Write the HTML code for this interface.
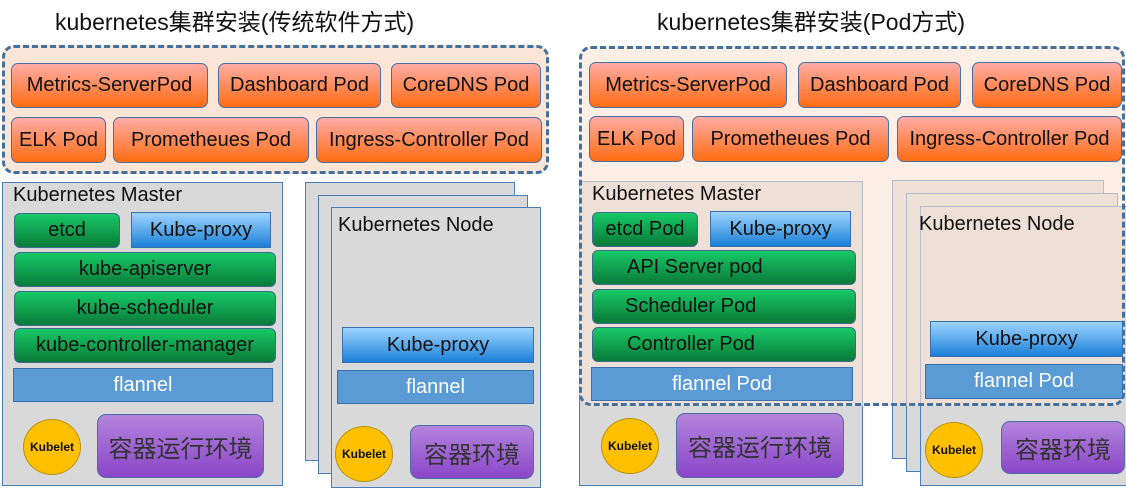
<!DOCTYPE html>
<html><head><meta charset="utf-8"><style>
body{margin:0;width:1126px;height:489px;background:#fff;position:relative;overflow:hidden;font-family:"Liberation Sans","Noto Sans CJK SC",sans-serif}
div{position:absolute;box-sizing:border-box}
.t{display:flex;align-items:center;justify-content:center;white-space:nowrap;color:#111}
.pod{background:linear-gradient(#ffaca6,#ff6c12);border:1.5px solid #4a6fa5;border-radius:7px;font-size:20px}
.gr{background:linear-gradient(#17c966,#0a7a3a);border:1.5px solid #3f6b8f;border-radius:6px;font-size:20px}
.kp{background:linear-gradient(#9ed4ff,#1b80d8);border:1px solid #3a6fb0;font-size:20px}
.fl{background:#5b9bd5;border:1.5px solid #3a6fb0;color:#fff;font-size:20px}
.pu{background:linear-gradient(#b384dc,#8a46c9);border:1.5px solid #4a6fa5;border-radius:9px;font-size:24px;color:#333}
.kb{background:#ffc000;border:1.5px solid #b8900a;border-radius:50%;font-size:12px;font-weight:bold}
.box{background:#d9d9d9;border:1.5px solid #4a7ebb}
.dash{border:3px dashed #41719c;border-radius:12px}
.ttl{font-size:23px;color:#111;white-space:nowrap}
.lbl{font-size:20px;color:#111;white-space:nowrap}
</style></head><body>
<div class="ttl" style="left:55px;top:3px">kubernetes集群安装(传统软件方式)</div>
<div class="ttl" style="left:657px;top:3px">kubernetes集群安装(Pod方式)</div>

<!-- LEFT -->
<div class="dash" style="left:2px;top:45px;width:547px;height:129px;background:#fbe5d6"></div>
<div class="t pod" style="left:11px;top:63px;width:197px;height:45px">Metrics-ServerPod</div>
<div class="t pod" style="left:218px;top:63px;width:163px;height:45px">Dashboard Pod</div>
<div class="t pod" style="left:391px;top:63px;width:150px;height:45px">CoreDNS Pod</div>
<div class="t pod" style="left:11px;top:117px;width:95px;height:46px">ELK Pod</div>
<div class="t pod" style="left:113px;top:117px;width:196px;height:46px">Prometheues Pod</div>
<div class="t pod" style="left:316px;top:117px;width:226px;height:46px">Ingress-Controller Pod</div>

<div class="box" style="left:2px;top:182px;width:281px;height:304px"></div>
<div class="lbl" style="left:13px;top:184px">Kubernetes Master</div>
<div class="t gr" style="left:14px;top:213px;width:106px;height:35px">etcd</div>
<div class="t kp" style="left:131px;top:212px;width:140px;height:36px">Kube-proxy</div>
<div class="t gr" style="left:14px;top:252px;width:262px;height:35px">kube-apiserver</div>
<div class="t gr" style="left:14px;top:291px;width:262px;height:35px">kube-scheduler</div>
<div class="t gr" style="left:14px;top:328px;width:262px;height:35px">kube-controller-manager</div>
<div class="t fl" style="left:13px;top:368px;width:260px;height:34px">flannel</div>
<div class="t kb" style="left:23px;top:419px;width:58px;height:56px">Kubelet</div>
<div class="t pu" style="left:97px;top:414px;width:167px;height:64px">容器运行环境</div>

<div class="box" style="left:305px;top:182px;width:210px;height:279px"></div>
<div class="box" style="left:318px;top:195px;width:210px;height:279px"></div>
<div class="box" style="left:331px;top:207px;width:210px;height:281px"></div>
<div class="lbl" style="left:338px;top:214px">Kubernetes Node</div>
<div class="t kp" style="left:342px;top:327px;width:192px;height:36px">Kube-proxy</div>
<div class="t fl" style="left:337px;top:370px;width:197px;height:34px">flannel</div>
<div class="t kb" style="left:335px;top:426px;width:58px;height:56px">Kubelet</div>
<div class="t pu" style="left:410px;top:425px;width:124px;height:54px">容器环境</div>

<!-- RIGHT -->
<div class="box" style="left:579px;top:181px;width:284px;height:305px"></div>
<div class="box" style="left:892px;top:180px;width:212px;height:279px"></div>
<div class="box" style="left:906px;top:193px;width:212px;height:279px"></div>
<div class="box" style="left:920px;top:206px;width:210px;height:280px"></div>
<div class="dash" style="left:579px;top:46px;width:546px;height:360px;background:rgba(251,229,214,0.6)"></div>
<div class="t pod" style="left:589px;top:62px;width:198px;height:46px">Metrics-ServerPod</div>
<div class="t pod" style="left:798px;top:62px;width:163px;height:46px">Dashboard Pod</div>
<div class="t pod" style="left:972px;top:62px;width:150px;height:46px">CoreDNS Pod</div>
<div class="t pod" style="left:589px;top:116px;width:95px;height:46px">ELK Pod</div>
<div class="t pod" style="left:692px;top:116px;width:197px;height:46px">Prometheues Pod</div>
<div class="t pod" style="left:897px;top:116px;width:225px;height:46px">Ingress-Controller Pod</div>

<div class="lbl" style="left:592px;top:183px">Kubernetes Master</div>
<div class="t gr" style="left:592px;top:212px;width:106px;height:35px">etcd Pod</div>
<div class="t kp" style="left:710px;top:211px;width:141px;height:36px">Kube-proxy</div>
<div class="t gr" style="left:592px;top:250px;width:264px;height:35px;justify-content:flex-start;padding-left:34px">API Server pod</div>
<div class="t gr" style="left:592px;top:289px;width:264px;height:35px;justify-content:flex-start;padding-left:32px">Scheduler Pod</div>
<div class="t gr" style="left:592px;top:327px;width:264px;height:35px;justify-content:flex-start;padding-left:34px">Controller Pod</div>
<div class="t fl" style="left:591px;top:367px;width:262px;height:34px">flannel Pod</div>
<div class="t kb" style="left:601px;top:418px;width:58px;height:56px">Kubelet</div>
<div class="t pu" style="left:676px;top:413px;width:168px;height:65px">容器运行环境</div>

<div class="lbl" style="left:919px;top:213px">Kubernetes Node</div>
<div class="t kp" style="left:930px;top:321px;width:193px;height:36px">Kube-proxy</div>
<div class="t fl" style="left:925px;top:364px;width:198px;height:35px">flannel Pod</div>
<div class="t kb" style="left:925px;top:422px;width:58px;height:56px">Kubelet</div>
<div class="t pu" style="left:1001px;top:421px;width:124px;height:53px">容器环境</div>
</body></html>
